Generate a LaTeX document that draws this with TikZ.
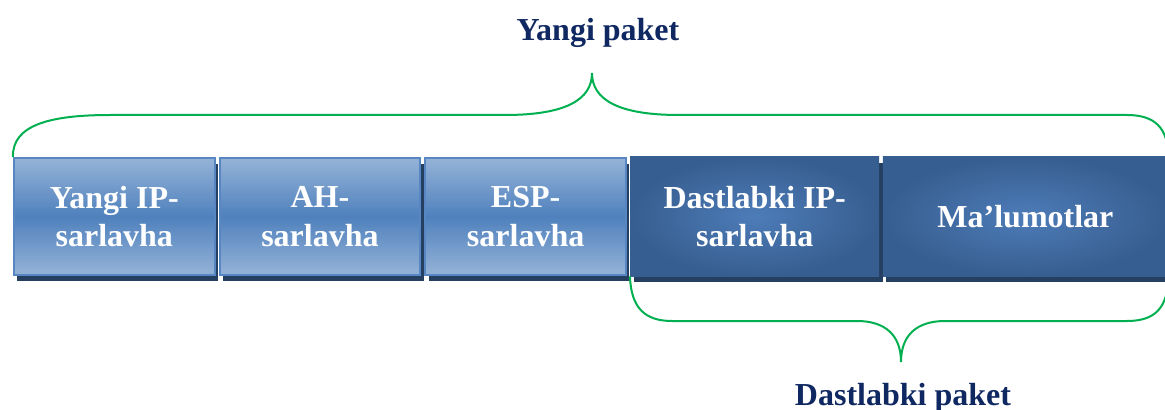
\documentclass[tikz,border=0pt]{standalone}
\usepackage{fontspec}
\setmainfont{Liberation Serif}
\usetikzlibrary{positioning,shadows}

\begin{document}
\begin{tikzpicture}[
    x=.75pt,y=-.75pt,
    font=\bfseries\fontsize{24}{29}\selectfont,
    node distance=2.25pt,
    pbox/.style={rectangle,inner sep=0pt,align=center,text=white,
      minimum height=89.25pt,
      drop shadow={shadow xshift=2.5pt,shadow yshift=-4.5pt,fill=pshadow,opacity=1}},
    hdrbox/.style={pbox,draw=ledge,line width=1.5pt,minimum width=150.5pt,
      minimum height=87.75pt,
      top color=ltop,bottom color=ltop,middle color=lmid},
    origbox/.style={pbox,inner color=dmid,outer color=dedge},
    brace/.style={draw=bracegreen,line width=1.5pt},
    title/.style={text=titleblue,anchor=base}
  ]
    \definecolor{ltop}{HTML}{95B3D7}
    \definecolor{lmid}{HTML}{4F81BD}
    \definecolor{ledge}{HTML}{5886C2}
    \definecolor{dmid}{HTML}{4D7CB8}
    \definecolor{dedge}{HTML}{375E90}
    \definecolor{pshadow}{HTML}{243F60}
    \definecolor{bracegreen}{HTML}{00B050}
    \definecolor{titleblue}{HTML}{0F2862}
    \path[use as bounding box] (0,0) rectangle (1165,410);
    % packet fields
    \node[hdrbox] (newip) at (114.3,216.5) {Yangi IP-\\sarlavha};
    \node[hdrbox,right=of newip] (ah) {AH-\\sarlavha};
    \node[hdrbox,right=of ah] (esp) {ESP-\\sarlavha};
    \node[origbox,minimum width=186.75pt,right=of esp] (origip) {Dastlabki IP-\\sarlavha};
    \node[origbox,minimum width=214pt,right=of origip] (data) {Ma’lumotlar};
    % braces
    \coordinate (newtip) at (592,73);
    \coordinate (origtip) at (901,362);
    \path[brace] (newip.north west) .. controls (12,125) and (50,115) .. (110,115)
      -- (505,115) .. controls (565,115) and (592,100) .. (newtip)
      .. controls (592,100) and (619,115) .. (679,115)
      -- (1127,115) .. controls (1155,115) and (1168,128) .. (data.north east);
    \path[brace] (origip.south west) .. controls (631,308) and (645,321) .. (672,321)
      -- (857,321) .. controls (885,321) and (901,335) .. (origtip)
      .. controls (901,335) and (917,321) .. (945,321)
      -- (1127,321) .. controls (1155,321) and (1168,308) .. (data.south east);
    % titles
    \node[title] (newlbl) at (598,41) {Yangi paket};
    \node[title] (origlbl) at (903,405) {Dastlabki paket};
  \end{tikzpicture}
\end{document}
